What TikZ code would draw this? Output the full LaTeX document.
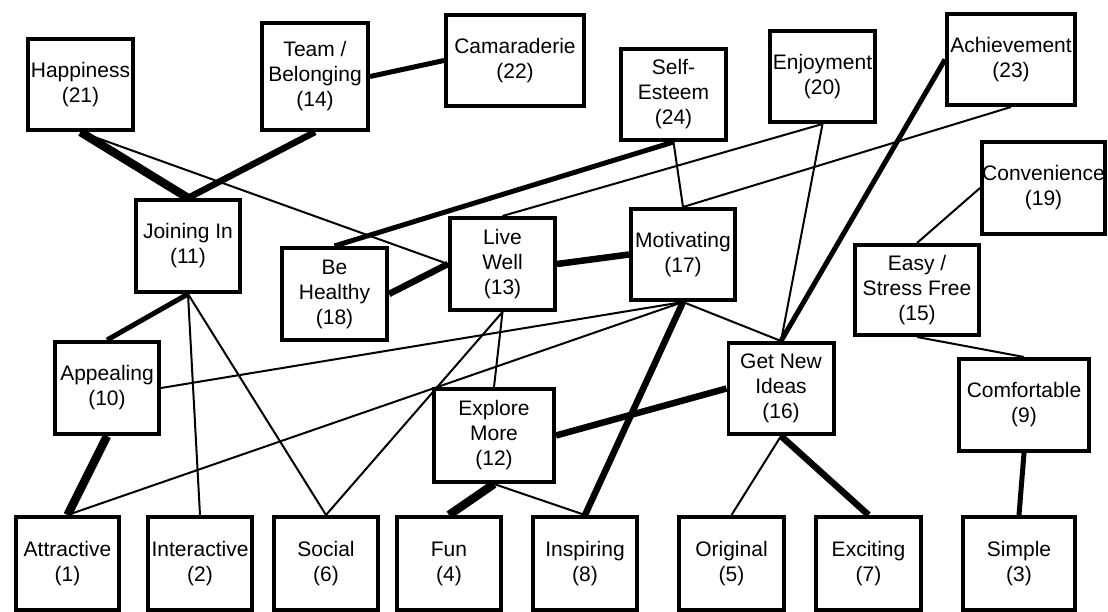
\documentclass[tikz,border=0pt]{standalone}
\usepackage{fontspec}
\setmainfont{Liberation Sans}
\begin{document}
\begin{tikzpicture}[x=1pt,y=-1pt,
  box/.style={draw, line width=3.6pt, fill=white, align=center, inner sep=0pt,
    font=\fontsize{21}{25}\selectfont},
  thinln/.style={line width=2pt},
  thkln/.style={line width=5pt},
  mthkln/.style={line width=6.5pt},
  vthkln/.style={line width=8.5pt}]
\useasboundingbox (0,0) rectangle (1108,612);
% nodes
\node[box, minimum width=105.4pt, minimum height=91.4pt] (n21) at (80.5,84.5) {Happiness\\(21)};
\node[box, minimum width=106.4pt, minimum height=107.4pt] (n14) at (315,76.5) {Team /\\Belonging\\(14)};
\node[box, minimum width=138.4pt, minimum height=91.4pt] (n22) at (515,60.5) {Camaraderie\\(22)};
\node[box, minimum width=105.4pt, minimum height=91.4pt] (n24) at (673.5,94.5) {Self-\\Esteem\\(24)};
\node[box, minimum width=105.4pt, minimum height=91.4pt] (n20) at (822.5,76.5) {Enjoyment\\(20)};
\node[box, minimum width=128.4pt, minimum height=91.4pt] (n23) at (1011,59.5) {Achievement\\(23)};
\node[box, minimum width=123.4pt, minimum height=92.4pt] (n19) at (1043.5,188) {Convenience\\(19)};
\node[box, minimum width=104.4pt, minimum height=92.4pt] (n11) at (188,246) {Joining In\\(11)};
\node[box, minimum width=105.4pt, minimum height=92.4pt] (n18) at (334.5,294) {Be\\Healthy\\(18)};
\node[box, minimum width=105.4pt, minimum height=92.4pt] (n13) at (502.5,264) {Live\\Well\\(13)};
\node[box, minimum width=104.4pt, minimum height=91.4pt] (n17) at (683,254.5) {Motivating\\(17)};
\node[box, minimum width=124.4pt, minimum height=90.4pt] (n15) at (917,290) {Easy /\\Stress Free\\(15)};
\node[box, minimum width=104.4pt, minimum height=92.4pt] (n10) at (107,388) {Appealing\\(10)};
\node[box, minimum width=120.4pt, minimum height=93.4pt] (n12) at (494,435.5) {Explore\\More\\(12)};
\node[box, minimum width=105.4pt, minimum height=91.4pt] (n16) at (781,388.5) {Get New\\Ideas\\(16)};
\node[box, minimum width=130.4pt, minimum height=92.4pt] (n9) at (1024,405) {Comfortable\\(9)};
\node[box, minimum width=103.4pt, minimum height=93.4pt] (n1) at (67.5,563.5) {Attractive\\(1)};
\node[box, minimum width=104.4pt, minimum height=93.4pt] (n2) at (200,563.5) {Interactive\\(2)};
\node[box, minimum width=104.4pt, minimum height=93.4pt] (n6) at (326,563.5) {Social\\(6)};
\node[box, minimum width=104.4pt, minimum height=93.4pt] (n4) at (449,563.5) {Fun\\(4)};
\node[box, minimum width=104.4pt, minimum height=93.4pt] (n8) at (585,563.5) {Inspiring\\(8)};
\node[box, minimum width=105.4pt, minimum height=93.4pt] (n5) at (731.5,563.5) {Original\\(5)};
\node[box, minimum width=105.4pt, minimum height=93.4pt] (n7) at (868.5,563.5) {Exciting\\(7)};
\node[box, minimum width=112.4pt, minimum height=93.4pt] (n3) at (1019,563.5) {Simple\\(3)};
% connectors
\draw[vthkln] (n21.south) -- (n11.north);
\draw[thinln] (n21.south) -- (n13.west);
\draw[mthkln] (n14.south) -- (n11.north);
\draw[thkln] (n14.east) -- (n22.west);
\draw[thkln] (n24.south) -- (n18.north);
\draw[thinln] (n24.south) -- (n17.north);
\draw[thinln] (n20.south) -- (n13.north);
\draw[thinln] (n20.south) -- (n16.north);
\draw[thinln] (n23.south) -- (n17.north);
\draw[thkln] (n23.west) -- (n16.north);
\draw[thinln] (n19.west) -- (n15.north);
\draw[thinln] (n15.south) -- (n9.north);
\draw[thkln] (n9.south) -- (n3.north);
\draw[mthkln] (n18.east) -- (n13.west);
\draw[mthkln] (n13.east) -- (n17.west);
\draw[thinln] (n13.south) -- (n12.north);
\draw[thinln] (n13.south) -- (n6.north);
\draw[thinln] (n17.south) -- (n10.east);
\draw[thinln] (n17.south) -- (n1.north);
\draw[mthkln] (n17.south) -- (n8.north);
\draw[thinln] (n17.south) -- (n16.north);
\draw[mthkln] (n16.west) -- (n12.east);
\draw[thinln] (n16.south) -- (n5.north);
\draw[mthkln] (n16.south) -- (n7.north);
\draw[vthkln] (n12.south) -- (n4.north);
\draw[thinln] (n12.south) -- (n8.north);
\draw[thkln] (n11.south) -- (n10.north);
\draw[thinln] (n11.south) -- (n2.north);
\draw[thinln] (n11.south) -- (n6.north);
\draw[vthkln] (n10.south) -- (n1.north);
\end{tikzpicture}
\end{document}
